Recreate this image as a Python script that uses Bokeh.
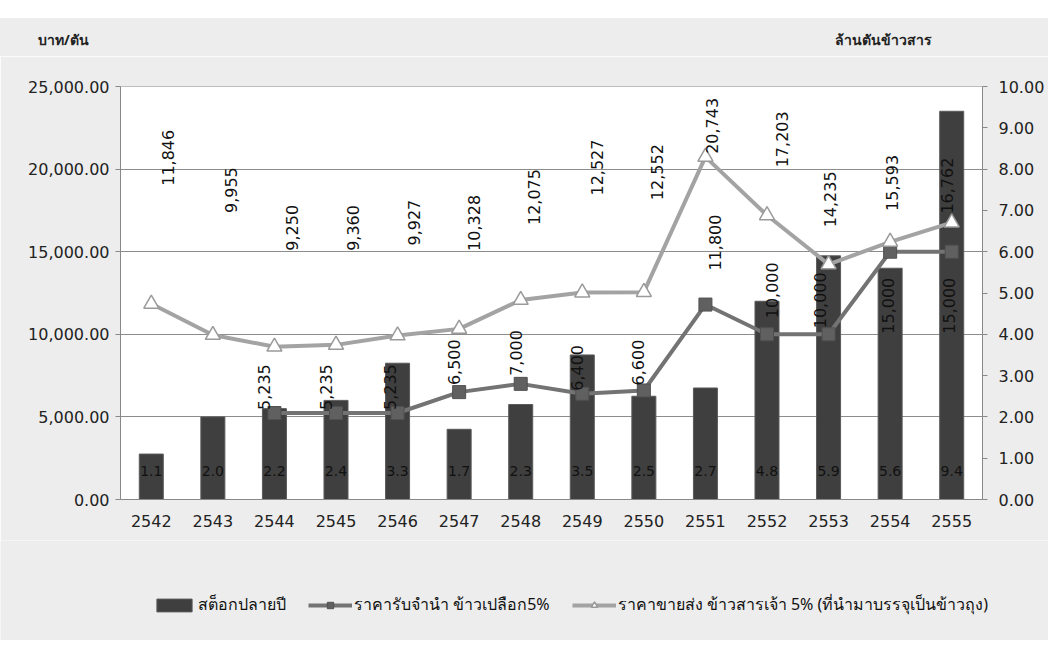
import math
import numpy as np
from bokeh.plotting import figure
from bokeh.layouts import column
from bokeh.models import (ColumnDataSource, Range1d, LinearAxis, NumeralTickFormatter,
                          FixedTicker, Legend, LegendItem, FactorRange, Div)
from bokeh.embed import file_html
from bokeh.resources import INLINE
from bokeh.core.properties import value

# ---------------- data ----------------
years = ["2542", "2543", "2544", "2545", "2546", "2547", "2548",
         "2549", "2550", "2551", "2552", "2553", "2554", "2555"]
stock = [1.1, 2.0, 2.2, 2.4, 3.3, 1.7, 2.3, 3.5, 2.5, 2.7, 4.8, 5.9, 5.6, 9.4]          # ล้านตันข้าวสาร
pledge = [np.nan, np.nan, 5235, 5235, 5235, 6500, 7000, 6400, 6600,
          11800, 10000, 10000, 15000, 15000]                                            # บาท/ตัน
wholesale = [11846, 9955, 9250, 9360, 9927, 10328, 12075, 12527, 12552,
             20743, 17203, 14235, 15593, 16762]                                          # บาท/ตัน

left_ticks = [0, 5000, 10000, 15000, 20000, 25000]
right_ticks = [0, 1, 2, 3, 4, 5, 6, 7, 8, 9, 10]

legend_names = ["สต็อกปลายปี", "ราคารับจำนำ ข้าวเปลือก5%",
                "ราคาขายส่ง ข้าวสารเจ้า 5% (ที่นำมาบรรจุเป็นข้าวถุง)"]
left_title = "บาท/ตัน"
right_title = "ล้านตันข้าวสาร"

# label offsets (pixels) – layout only
w_dy = [118, 122, 96, 94, 90, 78, 75, 97, 92, 3, 48, 37, 31, 9]
w_dx = [17, 18, 18, 17, 16, 15, 13, 15, 13, 7, 15, 1, 2, -5]
p_dy = [0, 0, 3, 3, 3, 7, 8, 3, 5, 34, 16, 6, -82, -82]
p_dx = [0, 0, -10, -10, -8, -5, -5, -5, -6, 10, 5, -9, -2, -3]

FONT = "DejaVu Sans"
THAI = "Noto Sans"
BG = "#ededed"

BAR_STYLE = dict(fill_color="#3f3f3f", line_color="#5a5a5a", line_width=1)
L1_STYLE = dict(line_color="#737373", line_width=4)
M1_STYLE = dict(marker="square", size=13, fill_color="#606060", line_color="#505050")
L2_STYLE = dict(line_color="#a3a3a3", line_width=4)
M2_STYLE = dict(marker="triangle", size=15, fill_color="white", line_color="#9a9a9a", line_width=1.5)

def fmt_int(v):
    return "" if (v is None or (isinstance(v, float) and math.isnan(v))) else f"{int(v):,}"

src = ColumnDataSource(dict(
    x=years, stock=stock, pledge=pledge, wholesale=wholesale,
    stock_lbl=[f"{v:.1f}" for v in stock],
    pledge_lbl=[fmt_int(v) for v in pledge],
    wholesale_lbl=[fmt_int(v) for v in wholesale],
    w_dy=[-d for d in w_dy], w_dx=w_dx,
    p_dy=[-d for d in p_dy], p_dx=p_dx,
))

W = 1048
p = figure(width=W, height=484, x_range=FactorRange(*years, range_padding=0),
           y_range=Range1d(0, 25000), output_backend="svg", toolbar_location=None,
           min_border_left=120, min_border_right=66, min_border_top=30, min_border_bottom=41,
           margin=0)
p.frame_align = False
p.extra_y_ranges = {"stock": Range1d(0, 10)}

p.background_fill_color = "white"
p.border_fill_color = BG
p.outline_line_color = "#bdbdbd"

# grid
p.xgrid.grid_line_color = None
p.ygrid.grid_line_color = "#8c8c8c"
p.ygrid.grid_line_width = 1
p.ygrid.ticker = FixedTicker(ticks=left_ticks)

def style_axis(ax, standoff):
    ax.major_label_text_font = FONT
    ax.major_label_text_font_size = "16px"
    ax.major_label_text_color = "#222222"
    ax.axis_line_color = "#888888"
    ax.major_tick_line_color = "#888888"
    ax.major_tick_out = 5
    ax.major_tick_in = 0
    ax.minor_tick_line_color = None
    ax.major_label_standoff = standoff

# left axis
p.yaxis.ticker = FixedTicker(ticks=left_ticks)
p.yaxis.formatter = NumeralTickFormatter(format="0,0.00")
style_axis(p.yaxis[0], 6)

# right axis
ra = LinearAxis(y_range_name="stock", ticker=FixedTicker(ticks=right_ticks),
                formatter=NumeralTickFormatter(format="0.00"))
style_axis(ra, 11)
p.add_layout(ra, "right")

# x axis
xa = p.xaxis[0]
style_axis(xa, 10)
xa.major_tick_line_color = None

# bars
p.vbar(x="x", top="stock", width=0.39, source=src, y_range_name="stock", **BAR_STYLE)
p.text(x="x", y=0, text="stock_lbl", source=src, y_range_name="stock",
       y_offset=-29, text_align="center", text_baseline="middle",
       text_font=value(FONT), text_font_size="14px", text_color="#111111")

# pledge line (squares)
p.line(x="x", y="pledge", source=src, **L1_STYLE)
p.scatter(x="x", y="pledge", source=src, **M1_STYLE)
p.text(x="x", y="pledge", text="pledge_lbl", source=src, angle=math.pi / 2,
       x_offset="p_dx", y_offset="p_dy", text_align="left", text_baseline="middle",
       text_font=value(FONT), text_font_size="16px", text_color="#111111")

# wholesale line (triangles)
p.line(x="x", y="wholesale", source=src, **L2_STYLE)
p.scatter(x="x", y="wholesale", source=src, **M2_STYLE)
p.text(x="x", y="wholesale", text="wholesale_lbl", source=src, angle=math.pi / 2,
       x_offset="w_dx", y_offset="w_dy", text_align="left", text_baseline="middle",
       text_font=value(FONT), text_font_size="16px", text_color="#111111")

# ---------------- legend strip (separate figure, same styles) ----------------
lg = figure(width=W, height=100, x_range=Range1d(10, 11), y_range=Range1d(10, 11),
            output_backend="svg", toolbar_location=None, x_axis_type=None, y_axis_type=None,
            min_border=0, margin=0)
lg.frame_align = False
lg.grid.grid_line_color = None
lg.outline_line_color = None
lg.background_fill_color = BG
lg.border_fill_color = BG
dummy = ColumnDataSource(dict(x=[0], y=[0]))   # off-range placeholder so legend swatches render
r_bar = lg.vbar(x="x", top="y", width=0.1, source=dummy, **BAR_STYLE)
r_l1 = lg.line(x="x", y="y", source=dummy, **L1_STYLE)
r_m1 = lg.scatter(x="x", y="y", source=dummy, **M1_STYLE)
r_l2 = lg.line(x="x", y="y", source=dummy, **L2_STYLE)
r_m2 = lg.scatter(x="x", y="y", source=dummy, **M2_STYLE)
legend = Legend(items=[LegendItem(label=legend_names[0], renderers=[r_bar]),
                       LegendItem(label=legend_names[1], renderers=[r_l1, r_m1]),
                       LegendItem(label=legend_names[2], renderers=[r_l2, r_m2])],
                orientation="horizontal", location=(152, 23),
                background_fill_alpha=0, border_line_color=None,
                label_text_font=THAI, label_text_font_size="16px",
                label_text_color="#111111", glyph_width=44, glyph_height=16,
                spacing=22, label_standoff=2, margin=0, padding=0)
lg.add_layout(legend, "center")

# axis titles (top strip)
header = Div(
    text=(f'<div style="position:relative;width:{W}px;height:56px;background:{BG};'
          f'border-top:18px solid white;box-sizing:border-box;font-family:\'{THAI}\';'
          f'font-size:14px;font-weight:bold;color:#222;">'
          f'<span style="position:absolute;left:38px;top:12px;">{left_title}</span>'
          f'<span style="position:absolute;left:835px;top:12px;">{right_title}</span></div>'),
    width=W, height=56, margin=0)

layout = column(header, p, lg, spacing=0)
open("out.html", "w").write(file_html(layout, INLINE))
